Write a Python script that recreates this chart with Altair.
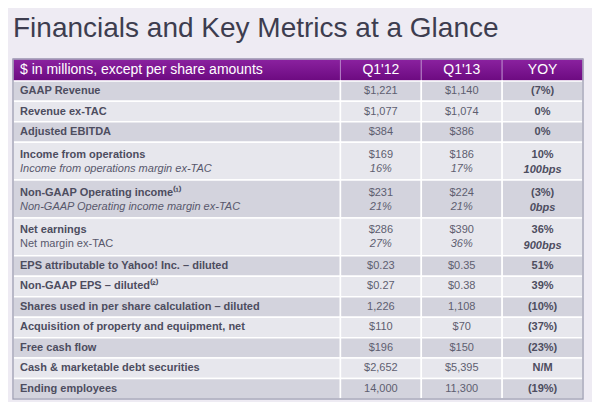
import altair as alt
import pandas as pd

# ---------------- data ----------------
title_text = "Financials and Key Metrics at a Glance"
header = ["$ in millions, except per share amounts", "Q1'12", "Q1'13", "YOY"]

labels = [
    "GAAP Revenue",
    "Revenue ex-TAC",
    "Adjusted EBITDA",
    "Income from operations",
    "Non-GAAP Operating income⁽¹⁾",
    "Net earnings",
    "EPS attributable to Yahoo! Inc. – diluted",
    "Non-GAAP EPS – diluted⁽²⁾",
    "Shares used in per share calculation – diluted",
    "Acquisition of property and equipment, net",
    "Free cash flow",
    "Cash & marketable debt securities",
    "Ending employees",
]
sub_labels = ["", "", "", "Income from operations margin ex-TAC",
              "Non-GAAP Operating income margin ex-TAC", "Net margin ex-TAC",
              "", "", "", "", "", "", ""]
sub_label_italic = [False, False, False, True, True, False,
                    False, False, False, False, False, False, False]

q1_12 = ["$1,221", "$1,077", "$384", "$169", "$231", "$286", "$0.23", "$0.27",
         "1,226", "$110", "$196", "$2,652", "14,000"]
q1_12_sub = ["", "", "", "16%", "21%", "27%", "", "", "", "", "", "", ""]
q1_13 = ["$1,140", "$1,074", "$386", "$186", "$224", "$390", "$0.35", "$0.38",
         "1,108", "$70", "$150", "$5,395", "11,300"]
q1_13_sub = ["", "", "", "17%", "21%", "36%", "", "", "", "", "", "", ""]
yoy = ["(7%)", "0%", "0%", "10%", "(3%)", "36%", "51%", "39%",
       "(10%)", "(37%)", "(23%)", "N/M", "(19%)"]
yoy_sub = ["", "", "", "100bps", "0bps", "900bps", "", "", "", "", "", "", ""]

# ---------------- layout (table geometry in row / column units) ----------------
col_units = [4.05, 1.0, 1.0, 1.0]
col_x = [0.0]
for w in col_units:
    col_x.append(col_x[-1] + w)
header_h, single_h, double_h = 1.07, 1.0, 1.85

head_cells, body_cells, texts = [], [], []
for c in range(4):
    head_cells.append(dict(x0=col_x[c], x1=col_x[c + 1], y0=0.0, y1=header_h))
    texts.append(dict(kind="head_left" if c == 0 else "head_col",
                      x=col_x[c] if c == 0 else (col_x[c] + col_x[c + 1]) / 2,
                      y=header_h / 2, t=header[c]))

y = header_h
for i, lab in enumerate(labels):
    two = bool(sub_labels[i])
    h = double_h if two else single_h
    shade = "dark" if i % 2 == 0 else "light"
    for c in range(4):
        body_cells.append(dict(x0=col_x[c], x1=col_x[c + 1], y0=y, y1=y + h, shade=shade))
    ym = y + (0.33 * h if two else h / 2)
    ys = y + 0.70 * h
    cx = [(col_x[c] + col_x[c + 1]) / 2 for c in range(4)]
    texts.append(dict(kind="label", x=0.0, y=ym, t=lab))
    texts.append(dict(kind="value", x=cx[1], y=ym, t=q1_12[i]))
    texts.append(dict(kind="value", x=cx[2], y=ym, t=q1_13[i]))
    texts.append(dict(kind="yoy", x=cx[3], y=ym, t=yoy[i]))
    if two:
        texts.append(dict(kind="sub_it" if sub_label_italic[i] else "sub_reg",
                          x=0.0, y=ys, t=sub_labels[i]))
        texts.append(dict(kind="value_sub", x=cx[1], y=ys, t=q1_12_sub[i]))
        texts.append(dict(kind="value_sub", x=cx[2], y=ys, t=q1_13_sub[i]))
        texts.append(dict(kind="yoy_sub", x=cx[3], y=ys + 0.04 * h, t=yoy_sub[i]))
    y += h
total_h = y

head_df = pd.DataFrame(head_cells)
body_df = pd.DataFrame(body_cells)
text_df = pd.DataFrame(texts)
frame_df = pd.DataFrame([dict(x0=0.0, x1=col_x[-1], y0=0.0, y1=total_h)])

FONT = "Liberation Sans"
xs = alt.Scale(domain=[0, col_x[-1]], nice=False, zero=False)
ysc = alt.Scale(domain=[0, total_h], nice=False, zero=False, reverse=True)


def rect_enc():
    return dict(
        x=alt.X("x0:Q", scale=xs, axis=None),
        x2="x1:Q",
        y=alt.Y("y0:Q", scale=ysc, axis=None),
        y2="y1:Q",
    )


head = alt.Chart(head_df).mark_rect(
    color=alt.Gradient(
        gradient="linear",
        stops=[alt.GradientStop(color="#8b22a0", offset=0),
               alt.GradientStop(color="#6c0a80", offset=1)],
        x1=0, x2=0, y1=0, y2=1,
    ),
    stroke="#b27cc4", strokeWidth=1,
).encode(**rect_enc())

body = alt.Chart(body_df).mark_rect(stroke="white", strokeWidth=1.5).encode(
    **rect_enc(),
    color=alt.Color("shade:N", legend=None,
                    scale=alt.Scale(domain=["dark", "light"], range=["#d3d3dd", "#e7e7ed"])),
)

frame = alt.Chart(frame_df).mark_rect(
    fill="transparent", stroke="#a3a3b6", strokeWidth=1.5
).encode(**rect_enc())


def text_layer(kind, **style):
    return alt.Chart(text_df).transform_filter(alt.datum.kind == kind).mark_text(
        baseline="middle", font=FONT, **style
    ).encode(
        x=alt.X("x:Q", scale=xs, axis=None),
        y=alt.Y("y:Q", scale=ysc, axis=None),
        text="t:N",
    )


layers = [
    head, body, frame,
    text_layer("head_left", align="left", dx=7, fontSize=14, color="white"),
    text_layer("head_col", align="center", fontSize=14, color="white"),
    text_layer("label", align="left", dx=7, fontSize=11, fontWeight="bold", color="#4d4d5f"),
    text_layer("sub_it", align="left", dx=7, fontSize=11, fontStyle="italic", color="#58586c"),
    text_layer("sub_reg", align="left", dx=7, fontSize=11, color="#58586c"),
    text_layer("value", align="center", fontSize=11, color="#5e5e70"),
    text_layer("value_sub", align="center", fontSize=11, fontStyle="italic", color="#5e5e70"),
    text_layer("yoy", align="center", fontSize=11, fontWeight="bold", color="#4d4d5f"),
    text_layer("yoy_sub", align="center", fontSize=11, fontWeight="bold",
               fontStyle="italic", color="#4d4d5f"),
]

chart = alt.layer(*layers).properties(
    width=570,
    height=340,
    autosize=alt.AutoSizeParams(type="none"),
    padding={"left": 5, "top": 51, "right": 9, "bottom": 3},
    background="#eeebf3",
    title=alt.TitleParams(
        text=title_text, anchor="start", fontSize=28, font=FONT,
        fontWeight="normal", color="#3d3d4f", offset=15, frame="group",
    ),
).configure_view(stroke=None)

chart.save("out.html", embed_options={"renderer": "svg", "actions": False})
